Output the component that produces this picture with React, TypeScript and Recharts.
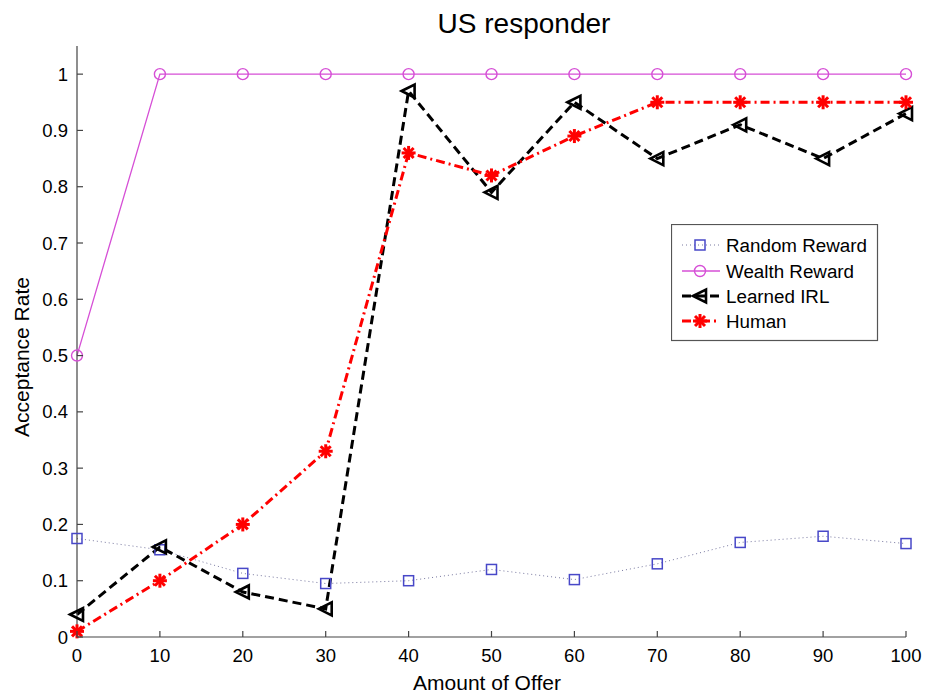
import React from 'react';
import { LineChart, Line, XAxis, YAxis, Legend } from 'recharts';

const offers = [0, 10, 20, 30, 40, 50, 60, 70, 80, 90, 100];
const randomReward = [0.175, 0.155, 0.113, 0.095, 0.1, 0.12, 0.102, 0.13, 0.168, 0.179, 0.166];
const wealthReward = [0.5, 1, 1, 1, 1, 1, 1, 1, 1, 1, 1];
const learnedIRL = [0.04, 0.16, 0.08, 0.05, 0.97, 0.79, 0.95, 0.85, 0.91, 0.85, 0.93];
const human = [0.01, 0.1, 0.2, 0.33, 0.86, 0.82, 0.89, 0.95, 0.95, 0.95, 0.95];

const xTicks = [0, 10, 20, 30, 40, 50, 60, 70, 80, 90, 100];
const yTicks = [0, 0.1, 0.2, 0.3, 0.4, 0.5, 0.6, 0.7, 0.8, 0.9, 1];

const data = offers.map((o, i) => ({
  offer: o,
  random: randomReward[i],
  wealth: wealthReward[i],
  irl: learnedIRL[i],
  human: human[i],
}));

const FONT = 'Liberation Sans, Arial, Helvetica, sans-serif';
const AXIS = '#444';
const BLUE = '#4848c8';
const BLUE_LINE = '#7878a0';
const MAGENTA = '#d64fd6';
const RED = '#ff0000';

const Square = ({ cx, cy }: any) => (
  <rect x={cx - 5} y={cy - 5} width={10} height={10} fill="none" stroke={BLUE} strokeWidth={1.5} />
);
const Circle = ({ cx, cy }: any) => (
  <circle cx={cx} cy={cy} r={5.5} fill="none" stroke={MAGENTA} strokeWidth={1.4} />
);
const TriLeft = ({ cx, cy }: any) => (
  <polygon
    points={`${cx - 7},${cy} ${cx + 6},${cy - 6.5} ${cx + 6},${cy + 6.5}`}
    fill="none"
    stroke="#000"
    strokeWidth={2.6}
    strokeLinejoin="miter"
  />
);
const Star = ({ cx, cy }: any) => (
  <g stroke={RED} strokeWidth={3} strokeLinecap="butt">
    <line x1={cx - 7} y1={cy} x2={cx + 7} y2={cy} />
    <line x1={cx} y1={cy - 7} x2={cx} y2={cy + 7} />
    <line x1={cx - 5} y1={cy - 5} x2={cx + 5} y2={cy + 5} />
    <line x1={cx - 5} y1={cy + 5} x2={cx + 5} y2={cy - 5} />
  </g>
);

const mk = (Comp: any) => (props: any) => <Comp key={`d-${props.index}`} {...props} />;

const series = [
  { key: 'random', name: 'Random Reward', color: BLUE_LINE, width: 1, dash: '1 3', Marker: Square },
  { key: 'wealth', name: 'Wealth Reward', color: MAGENTA, width: 1.3, dash: undefined, Marker: Circle },
  { key: 'irl', name: 'Learned IRL', color: '#000', width: 3, dash: '9 5', Marker: TriLeft },
  { key: 'human', name: 'Human', color: RED, width: 3, dash: '9 4 2 4', Marker: Star },
];

const fmtY = (v: number) => (v === 0 ? '0' : v === 1 ? '1' : v.toFixed(1));

const YTick = ({ x, y, payload }: any) => (
  <g>
    <line x1={x} y1={y} x2={x + 6} y2={y} stroke={AXIS} strokeWidth={1.2} />
    <text x={x - 9} y={y} textAnchor="end" dominantBaseline="central" fontSize={18.5} fontFamily={FONT} fill="#000">
      {fmtY(payload.value)}
    </text>
  </g>
);

const XTick = ({ x, y, payload }: any) => (
  <g>
    <line x1={x} y1={y} x2={x} y2={y - 6} stroke={AXIS} strokeWidth={1.2} />
    <text x={x} y={y + 25} textAnchor="middle" fontSize={18.5} fontFamily={FONT} fill="#000">
      {String(payload.value)}
    </text>
  </g>
);

const LegendBox = () => {
  const rows = [21, 47, 72, 97];
  return (
    <svg width={208} height={118} style={{ display: 'block' }}>
      <rect x={0.5} y={0.5} width={206} height={116} fill="#fff" stroke="#555" strokeWidth={1.2} />
      {series.map((s, i) => {
        const y = rows[i];
        const M = s.Marker;
        return (
          <g key={s.key}>
            <line x1={11} y1={y} x2={49} y2={y} stroke={s.color} strokeWidth={s.width} strokeDasharray={s.dash} />
            <M cx={29} cy={y} />
            <text x={55} y={y} dominantBaseline="central" fontSize={18.8} fontFamily={FONT} fill="#000">
              {s.name}
            </text>
          </g>
        );
      })}
    </svg>
  );
};

export default function App() {
  return (
    <div style={{ position: 'absolute', left: 0, top: 0, background: '#fff' }}>
      <LineChart width={935} height={695} data={data} margin={{ top: 46, right: 29, bottom: 0, left: 0 }}>
        <XAxis
          dataKey="offer"
          type="number"
          domain={[0, 100]}
          ticks={xTicks}
          height={58}
          stroke={AXIS}
          strokeWidth={1.2}
          tickLine={false}
          tickSize={0}
          tickMargin={0}
          tick={<XTick />}
          interval={0}
        />
        <YAxis
          type="number"
          domain={[0, 1.05]}
          ticks={yTicks}
          width={77}
          stroke={AXIS}
          strokeWidth={1.2}
          tickLine={false}
          tickSize={0}
          tickMargin={0}
          tick={<YTick />}
          interval={0}
        />
        {series.map((s) => (
          <Line
            key={s.key}
            dataKey={s.key}
            name={s.name}
            type="linear"
            stroke={s.color}
            strokeWidth={s.width}
            strokeDasharray={s.dash}
            dot={mk(s.Marker)}
            activeDot={false}
            isAnimationActive={false}
          />
        ))}
        <Legend
          layout="vertical"
          align="center"
          verticalAlign="middle"
          content={() => <LegendBox />}
          wrapperStyle={{ left: 671, top: 224, width: 208, height: 118 }}
        />
        <text x={524} y={33} textAnchor="middle" fontSize={28} fontFamily={FONT} fill="#000">
          US responder
        </text>
        <text x={487} y={690} textAnchor="middle" fontSize={21} fontFamily={FONT} fill="#000">
          Amount of Offer
        </text>
        <text
          x={29}
          y={357}
          textAnchor="middle"
          fontSize={21}
          fontFamily={FONT}
          fill="#000"
          transform="rotate(-90 29 357)"
        >
          Acceptance Rate
        </text>
      </LineChart>
    </div>
  );
}
